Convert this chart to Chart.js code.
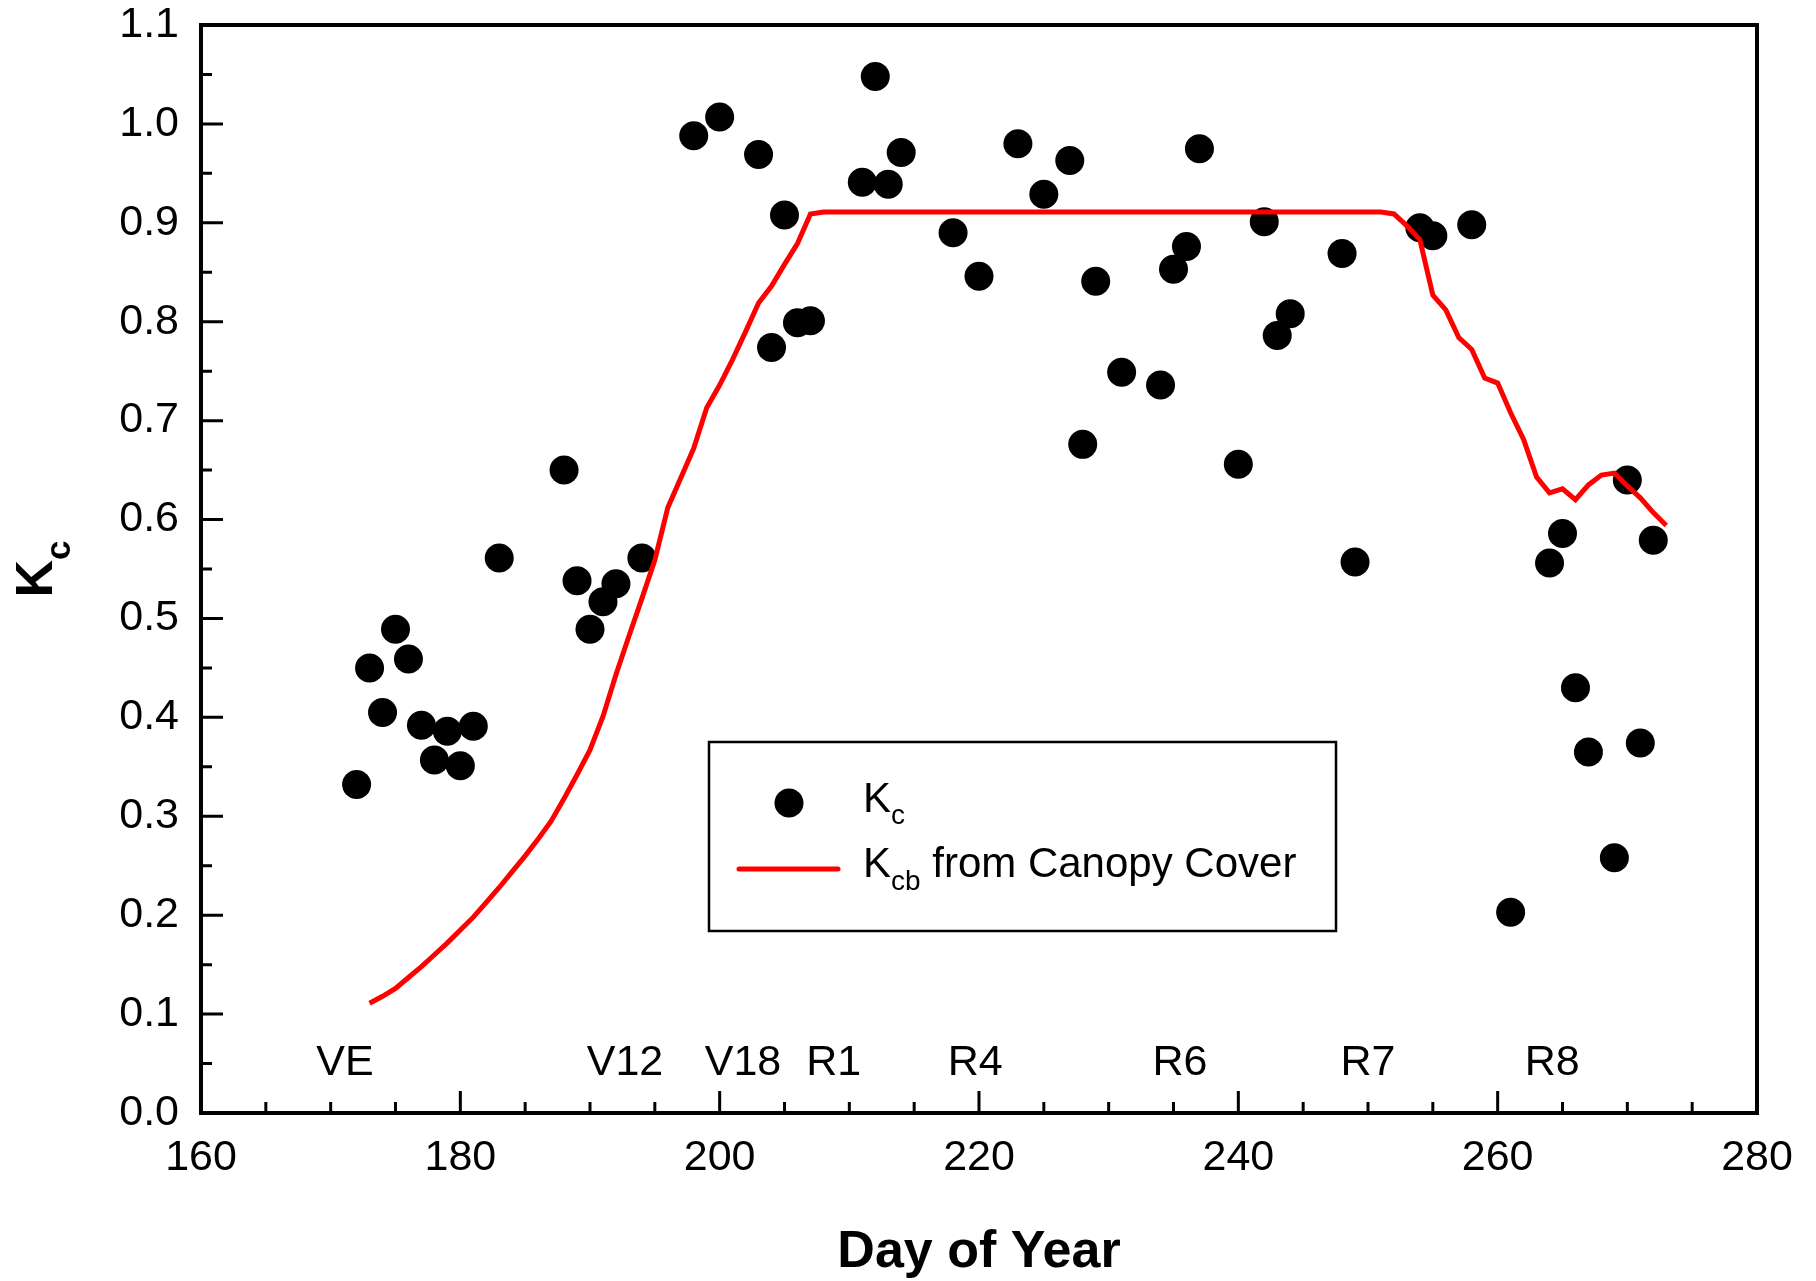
<!DOCTYPE html>
<html>
<head>
<meta charset="utf-8">
<script src="https://cdn.jsdelivr.net/npm/chart.js@4.4.1/dist/chart.umd.min.js"></script>
<style>
  html, body { margin: 0; padding: 0; background: #fff; }
  canvas { display: block; }
</style>
</head>
<body>
<canvas id="chartCanvas" width="1816" height="1281"></canvas>
<script>
// Measured Kc (black dots)
const kcDays = [172, 173, 174, 175, 176, 177, 178, 179, 180, 181,
  183, 188, 189, 190, 191, 192, 194, 198, 200, 203,
  204, 205, 206, 207, 211, 212, 213, 214, 218, 220,
  223, 225, 227, 228, 229, 231, 234, 235, 236, 237,
  240, 242, 243, 244, 248, 249, 254, 255, 258, 261,
  264, 265, 266, 267, 269, 270, 271, 272];
const kcValues = [0.332, 0.450, 0.405, 0.489, 0.459, 0.392, 0.357, 0.386, 0.351, 0.391,
  0.561, 0.650, 0.538, 0.489, 0.517, 0.535, 0.561, 0.988, 1.007, 0.969,
  0.774, 0.908, 0.799, 0.801, 0.941, 1.048, 0.939, 0.971, 0.890, 0.846,
  0.980, 0.929, 0.963, 0.676, 0.841, 0.749, 0.736, 0.853, 0.876, 0.975,
  0.656, 0.901, 0.786, 0.808, 0.869, 0.557, 0.895, 0.887, 0.898, 0.203,
  0.556, 0.586, 0.430, 0.365, 0.258, 0.640, 0.374, 0.579];

// Kcb from canopy cover (red line); flat stretch 208-251
const kcbDays = [173, 174, 175, 176, 177, 178, 179, 180, 181, 182,
  183, 184, 185, 186, 187, 188, 189, 190, 191, 192,
  193, 194, 195, 196, 197, 198, 199, 200, 201, 202,
  203, 204, 205, 206, 207, 208, 251, 252, 253, 254,
  255, 256, 257, 258, 259, 260, 261, 262, 263, 264,
  265, 266, 267, 268, 269, 270, 271, 272, 273];
const kcbValues = [0.111, 0.118, 0.126, 0.137, 0.148, 0.160, 0.172, 0.185, 0.198, 0.213,
  0.228, 0.244, 0.260, 0.277, 0.295, 0.318, 0.342, 0.367, 0.401, 0.443,
  0.482, 0.520, 0.559, 0.612, 0.642, 0.672, 0.713, 0.736, 0.762, 0.790,
  0.819, 0.836, 0.858, 0.879, 0.909, 0.911, 0.911, 0.909, 0.897, 0.883,
  0.827, 0.812, 0.784, 0.772, 0.743, 0.738, 0.708, 0.681, 0.643, 0.627,
  0.631, 0.620, 0.635, 0.645, 0.647, 0.634, 0.622, 0.607, 0.594];

// growth stage labels along the bottom of the plot
const stageNames = ['VE', 'V12', 'V18', 'R1', 'R4', 'R6', 'R7', 'R8'];
const stageDays = [171.1, 192.7, 201.8, 208.8, 219.7, 235.5, 250, 264.2];

const FONT = '"Liberation Sans", Arial, Helvetica, sans-serif';
Chart.defaults.font.family = FONT;
Chart.defaults.color = '#000';

// box, inward ticks, stage labels, y title with subscript, legend
const decorations = {
  id: 'decorations',
  afterDraw(chart) {
    const { ctx, chartArea: a, scales: { x, y } } = chart;
    ctx.save();
    ctx.strokeStyle = '#000';
    ctx.fillStyle = '#000';

    ctx.lineWidth = 3;
    ctx.beginPath();
    for (let v = 160; v <= 280; v += 5) {
      const px = x.getPixelForValue(v);
      const len = v % 20 === 0 ? 22 : 11;
      ctx.moveTo(px, a.bottom);
      ctx.lineTo(px, a.bottom - len);
    }
    for (let i = 0; i <= 22; i++) {
      const py = y.getPixelForValue(i * 0.05);
      const len = i % 2 === 0 ? 22 : 11;
      ctx.moveTo(a.left, py);
      ctx.lineTo(a.left + len, py);
    }
    ctx.stroke();

    ctx.lineWidth = 4;
    ctx.strokeRect(a.left, a.top, a.right - a.left, a.bottom - a.top);

    // stage names
    ctx.font = '43px ' + FONT;
    ctx.textAlign = 'center';
    ctx.textBaseline = 'middle';
    stageNames.forEach((name, i) => {
      ctx.fillText(name, x.getPixelForValue(stageDays[i]), y.getPixelForValue(0.05));
    });

    // y axis title: K with subscript c
    ctx.save();
    ctx.translate(52, (a.top + a.bottom) / 2);
    ctx.rotate(-Math.PI / 2);
    ctx.textAlign = 'left';
    ctx.textBaseline = 'alphabetic';
    ctx.font = 'bold 52px ' + FONT;
    const wK = ctx.measureText('K').width;
    ctx.font = 'bold 35px ' + FONT;
    const wc = ctx.measureText('c').width;
    const x0 = -(wK + wc) / 2;
    ctx.font = 'bold 52px ' + FONT;
    ctx.fillText('K', x0, 0);
    ctx.font = 'bold 35px ' + FONT;
    ctx.fillText('c', x0 + wK, 18);
    ctx.restore();

    // legend
    ctx.lineWidth = 2.5;
    ctx.strokeRect(709, 742, 627, 189);
    ctx.beginPath();
    ctx.arc(789, 803, 14.5, 0, Math.PI * 2);
    ctx.fill();
    ctx.strokeStyle = '#ff0000';
    ctx.lineWidth = 5;
    ctx.lineCap = 'round';
    ctx.beginPath();
    ctx.moveTo(739, 869);
    ctx.lineTo(838, 869);
    ctx.stroke();

    ctx.textAlign = 'left';
    ctx.textBaseline = 'alphabetic';
    let tx = 863;
    ctx.font = '42px ' + FONT;
    ctx.fillText('K', tx, 812);
    tx += ctx.measureText('K').width;
    ctx.font = '28px ' + FONT;
    ctx.fillText('c', tx, 824);

    tx = 863;
    ctx.font = '42px ' + FONT;
    ctx.fillText('K', tx, 877);
    tx += ctx.measureText('K').width;
    ctx.font = '28px ' + FONT;
    ctx.fillText('cb', tx, 890);
    tx += ctx.measureText('cb').width;
    ctx.font = '42px ' + FONT;
    ctx.fillText(' from Canopy Cover', tx, 877);

    ctx.restore();
  }
};

const ctx = document.getElementById('chartCanvas').getContext('2d');

new Chart(ctx, {
  type: 'scatter',
  data: {
    datasets: [
      {
        type: 'line',
        label: 'Kcb from Canopy Cover',
        data: kcbDays.map((d, i) => ({ x: d, y: kcbValues[i] })),
        borderColor: '#ff0000',
        borderWidth: 5,
        pointRadius: 0,
        showLine: true,
        fill: false,
        tension: 0,
        order: 0
      },
      {
        label: 'Kc',
        data: kcDays.map((d, i) => ({ x: d, y: kcValues[i] })),
        backgroundColor: '#000',
        borderWidth: 0,
        pointRadius: 14.5,
        order: 1
      }
    ]
  },
  options: {
    responsive: false,
    animation: false,
    layout: { padding: { top: 25, right: 59, left: 0, bottom: 0 } },
    plugins: {
      legend: { display: false },
      tooltip: { enabled: false }
    },
    scales: {
      x: {
        type: 'linear',
        min: 160,
        max: 280,
        grid: { display: false, drawTicks: false },
        border: { display: false },
        ticks: { stepSize: 20, font: { size: 43 }, padding: 19, maxRotation: 0 },
        title: {
          display: true,
          text: 'Day of Year',
          font: { size: 52, weight: 'bold', lineHeight: 1.1 },
          padding: { top: 0, bottom: 0 }
        },
        afterFit(scale) {
          scale.height = 168;
          scale.paddingLeft = 0;
          scale.paddingRight = 0;
        }
      },
      y: {
        min: 0,
        max: 1.1,
        grid: { display: false, drawTicks: false },
        border: { display: false },
        ticks: {
          stepSize: 0.1,
          font: { size: 43 },
          padding: 22,
          callback: v => v.toFixed(1)
        },
        afterFit(scale) {
          scale.width = 201;
          scale.paddingTop = 0;
          scale.paddingBottom = 0;
        }
      }
    }
  },
  plugins: [decorations]
});
</script>
</body>
</html>
